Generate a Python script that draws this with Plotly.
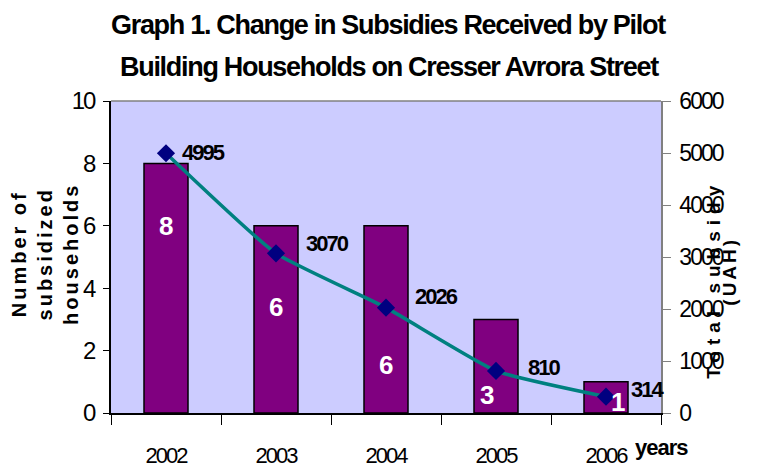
import plotly.graph_objects as go

# ---- data ----
years = ["2002", "2003", "2004", "2005", "2006"]
households = [8, 6, 6, 3, 1]
subsidy_uah = [4995, 3070, 2026, 810, 314]
left_ticks = [0, 2, 4, 6, 8, 10]
right_ticks = [0, 1000, 2000, 3000, 4000, 5000, 6000]

title_line1 = "Graph 1. Change in Subsidies Received by Pilot"
title_line2 = "Building Households on Cresser Avrora Street"

# ---- layout-only placement of the in-bar count labels (left-axis units) ----
count_label_y = [6.0, 3.4, 1.55, 0.58, 0.35]
count_label_dx = [0, 0, 0, -9, 12]
# offsets (px) of the subsidy labels from their markers
value_label_dx = [14, 28, 27, 30, 23]
value_label_dy = [1, 10, 11, 3, 7]

FONT = "Liberation Sans, Arial, sans-serif"


def tight(s, ls):
    return f'<span style="letter-spacing:{ls}px">{s}</span>'


fig = go.Figure()
fig.add_trace(go.Bar(
    x=years, y=households, yaxis="y",
    marker=dict(color="#800080", line=dict(color="black", width=1.5)),
    width=0.4, showlegend=False,
))
fig.add_trace(go.Scatter(
    x=years, y=subsidy_uah, yaxis="y2", mode="lines+markers",
    line=dict(color="#008080", width=3.5, shape="spline", smoothing=0.45),
    marker=dict(symbol="diamond", size=14, color="#000080",
                line=dict(width=0)),
    showlegend=False,
))

annotations = []
for i, (n, ly, dx) in enumerate(zip(households, count_label_y, count_label_dx)):
    annotations.append(dict(
        x=i, y=ly, xref="x", yref="y", text=f"<b>{n}</b>", showarrow=False,
        xshift=dx, font=dict(family=FONT, size=26, color="white"),
    ))
for i, (v, dx, dy) in enumerate(zip(subsidy_uah, value_label_dx, value_label_dy)):
    annotations.append(dict(
        x=i, y=v, xref="x", yref="y2", text="<b>" + tight(v, -2) + "</b>",
        showarrow=False, xanchor="left", xshift=dx, yshift=dy,
        font=dict(family=FONT, size=22, color="black"),
    ))
# title lines
annotations.append(dict(
    x=0.505, y=1.245, xref="paper", yref="paper", xanchor="center", yanchor="middle",
    text="<b>" + tight(title_line1, -1.3) + "</b>", showarrow=False,
    font=dict(family=FONT, size=27, color="black"),
))
annotations.append(dict(
    x=0.507, y=1.108, xref="paper", yref="paper", xanchor="center", yanchor="middle",
    text="<b>" + tight(title_line2, -1.3) + "</b>", showarrow=False,
    font=dict(family=FONT, size=27, color="black"),
))
# axis titles
annotations.append(dict(
    x=-0.12, y=0.51, xref="paper", yref="paper", xanchor="center", yanchor="middle",
    text="<b>" + tight("Number of<br>subsidized<br>households", 3) + "</b>",
    textangle=-90, showarrow=False, font=dict(family=FONT, size=20, color="black"),
))
annotations.append(dict(
    x=1.094, y=0.429, xref="paper", yref="paper", xanchor="center", yanchor="middle",
    text="<b>" + tight("Total subsidy", 6) + "</b>",
    textangle=-90, showarrow=False, font=dict(family=FONT, size=19, color="black"),
))
annotations.append(dict(
    x=1.123, y=0.455, xref="paper", yref="paper", xanchor="center", yanchor="middle",
    text="<b>" + tight("(UAH)", 3) + "</b>",
    textangle=-90, showarrow=False, font=dict(family=FONT, size=19, color="black"),
))
annotations.append(dict(
    x=1.0, y=-0.11, xref="paper", yref="paper", xanchor="center", yanchor="middle",
    text="<b>" + tight("years", -1) + "</b>", showarrow=False,
    font=dict(family=FONT, size=22, color="black"),
))

# inner halves of the tick marks (ticks cross the axis lines in the original)
boundaries = [i + 0.5 for i in range(len(years) - 1)]
inner_tick_axis = dict(ticks="inside", showticklabels=False, showline=False,
                       showgrid=False, zeroline=False, automargin=False)

# the page body has an 8px default margin, so the figure is 8px smaller
fig.update_layout(
    width=765, height=464,
    margin=dict(l=103, r=112, t=93, b=59),
    paper_bgcolor="white", plot_bgcolor="#CCCCFF",
    annotations=annotations,
    xaxis=dict(
        type="category", tickson="boundaries", ticks="outside", ticklen=10,
        tickcolor="black", showline=True, linecolor="black", linewidth=1.5,
        showgrid=False, ticklabelstandoff=22, range=[-0.5, 4.5],
        automargin=False,
        tickvals=years, ticktext=[tight(y, -2) for y in years],
        tickfont=dict(family=FONT, size=22, color="black"),
    ),
    yaxis=dict(
        range=[0, 10], tickvals=left_ticks,
        ticktext=[tight(t, -2) for t in left_ticks],
        ticks="outside", ticklen=6, automargin=False,
        tickcolor="black", showline=True, linecolor="black", linewidth=1.5,
        showgrid=False, zeroline=False, ticklabelstandoff=4,
        tickfont=dict(family=FONT, size=24, color="black"),
    ),
    yaxis2=dict(
        range=[0, 6000], tickvals=right_ticks,
        ticktext=[tight(t, -2) for t in right_ticks],
        overlaying="y", side="right", automargin=False,
        ticks="outside", ticklen=8, tickcolor="#808080", showline=True,
        linecolor="#808080", linewidth=1.5, showgrid=False, zeroline=False,
        ticklabelstandoff=4,
        tickfont=dict(family=FONT, size=23, color="black"),
    ),
    xaxis2=dict(overlaying="x", anchor="y", range=[-0.5, 4.5], tickvals=boundaries,
                ticklen=8, tickcolor="black", **inner_tick_axis),
    yaxis3=dict(overlaying="y", anchor="x", side="left", range=[0, 10],
                tickvals=left_ticks, ticklen=4, tickcolor="black", **inner_tick_axis),
    yaxis4=dict(overlaying="y", anchor="x", side="right", range=[0, 6000],
                tickvals=right_ticks, ticklen=6, tickcolor="#808080", **inner_tick_axis),
    shapes=[dict(type="line", xref="paper", yref="paper", x0=0, x1=1, y0=1, y1=1,
                 line=dict(color="#808080", width=1.5))],
)

fig.write_html("out.html")
